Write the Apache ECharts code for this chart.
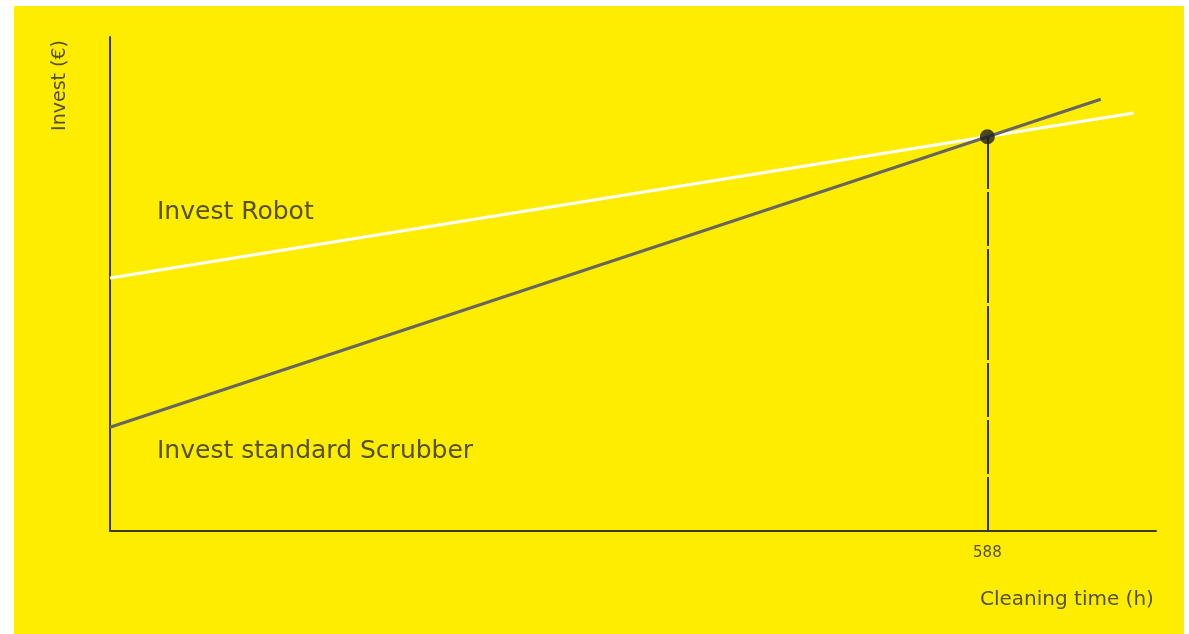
<!DOCTYPE html>
<html>
<head>
<meta charset="utf-8">
<script src="https://cdn.jsdelivr.net/npm/echarts@6/dist/echarts.min.js"></script>
<style>
html,body{margin:0;padding:0;background:#fff;}
#chart{width:1189px;height:634px;}
</style>
</head>
<body>
<div id="chart"></div>
<script>
// Data (hours, invest in relative units)
const robotHours = [0, 686];
const robotInvest = [51.2, 84.6];
const scrubberHours = [0, 664];
const scrubberInvest = [21.0, 87.4];
const breakEvenHour = 588;
const breakEvenInvest = 79.8;
const xTickLabels = [588];
const seriesNames = ['Invest Robot', 'Invest standard Scrubber'];
const axisTitles = {x: 'Cleaning time (h)', y: 'Invest (€)'};

const textColor = '#55511c';
const axisColor = '#3a3a2c';
const fontFam = 'DejaVu Sans';

const chart = echarts.init(document.getElementById('chart'));
chart.setOption({
  backgroundColor: '#ffffff',
  animation: false,
  grid: {left: 110, right: 33, top: 37, bottom: 103},
  xAxis: {
    type: 'value', min: 0, max: 701,
    splitLine: {show: false},
    axisLine: {show: true, onZero: false, lineStyle: {color: axisColor, width: 2}},
    axisTick: {show: false},
    axisLabel: {
      show: true, customValues: xTickLabels,
      color: textColor, fontFamily: fontFam, fontSize: 15, margin: 15
    }
  },
  yAxis: {
    type: 'value', min: 0, max: 100,
    splitLine: {show: false},
    axisLine: {show: true, onZero: false, lineStyle: {color: axisColor, width: 2}},
    axisTick: {show: false},
    axisLabel: {show: false}
  },
  graphic: [
    {type: 'rect', z: -10, silent: true, shape: {x: 14, y: 6, width: 1170, height: 628}, style: {fill: '#FFED00'}},
    {type: 'text', left: 51, top: 40, rotation: Math.PI / 2, style: {text: axisTitles.y, fill: textColor, font: '19px "DejaVu Sans"'}},
    {type: 'text', left: 980, top: 590, style: {text: axisTitles.x, fill: textColor, font: '20px "DejaVu Sans"'}},
    {type: 'text', left: 157, top: 200, style: {text: seriesNames[0], fill: textColor, font: '25px "DejaVu Sans"'}},
    {type: 'text', left: 157, top: 439, style: {text: seriesNames[1], fill: textColor, font: '25px "DejaVu Sans"'}}
  ],
  series: [
    {
      name: seriesNames[0], type: 'line', showSymbol: false, z: 3,
      data: robotHours.map((h, i) => [h, robotInvest[i]]),
      lineStyle: {color: '#ffffff', width: 3}
    },
    {
      name: seriesNames[1], type: 'line', showSymbol: false, z: 4,
      data: scrubberHours.map((h, i) => [h, scrubberInvest[i]]),
      lineStyle: {color: '#66665e', width: 3},
      markLine: {
        silent: true, symbol: 'none', label: {show: false},
        lineStyle: {color: '#333328', width: 2, type: [54, 3]},
        data: [[{coord: [breakEvenHour, 0]}, {coord: [breakEvenHour, breakEvenInvest]}]]
      }
    },
    {
      type: 'scatter', z: 5, symbolSize: 15,
      data: [[breakEvenHour, breakEvenInvest]],
      itemStyle: {color: '#1e1e1e'}
    }
  ]
});
</script>
</body>
</html>
